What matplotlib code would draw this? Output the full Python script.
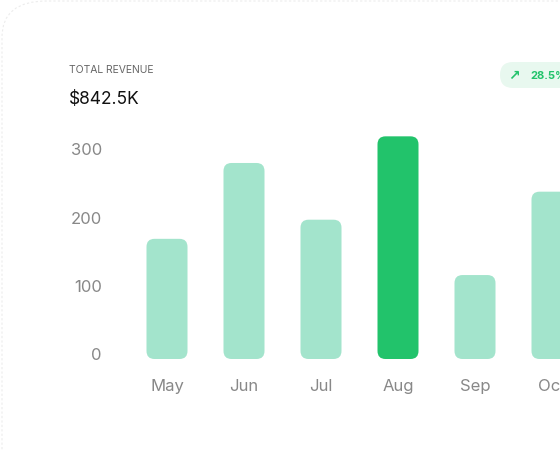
import matplotlib
matplotlib.use("Agg")
import matplotlib.pyplot as plt
from matplotlib.patches import FancyBboxPatch

plt.rcParams['font.family'] = ['Inter', 'DejaVu Sans']

months = ["May", "Jun", "Jul", "Aug", "Sep", "Oct"]
revenue = [170, 281, 198, 320, 117, 239]
highlight = "Aug"
yticks = [0, 100, 200, 300]

W, H = 560, 452
fig = plt.figure(figsize=(5.6, 4.52), dpi=100)
fig.patch.set_facecolor("white")

card = FancyBboxPatch((2/W, -0.2), 1.2, 1.2 - 2/H,
                      boxstyle="round,pad=0,rounding_size=0.08",
                      transform=fig.transFigure, facecolor="white",
                      edgecolor="#ececec", lw=0.8, linestyle=(0, (2, 2)),
                      zorder=-5)
fig.add_artist(card)

ax_l, ax_r, ax_t, ax_b = 110, 560, 130, 372
ax = fig.add_axes([ax_l/W, 1-ax_b/H, (ax_r-ax_l)/W, (ax_b-ax_t)/H])
ax.set_zorder(2)
ax.patch.set_alpha(0)
ppx = 77.0
ax.set_xlim((ax_l-167)/ppx, (ax_r-167)/ppx)
ppy = 205/300
ax.set_ylim((356-ax_b)/ppy, (356-ax_t)/ppy)
ax.axis("off")

bw = 41/ppx
r = 8/ppx
for i, (m, v) in enumerate(zip(months, revenue)):
    c = "#22c36b" if m == highlight else "#a3e4cc"
    p = FancyBboxPatch((i-bw/2, -4/ppy), bw, v+4/ppy,
                       boxstyle=f"round,pad=0,rounding_size={r}",
                       mutation_aspect=(1/ppy)/(1/ppx),
                       facecolor=c, edgecolor="none")
    ax.add_patch(p)
    ax.text(i, (356-387)/ppy, m, ha="center", va="center",
            fontsize=12, color="#888888", clip_on=False)

for t in yticks:
    ax.text((102-167)/ppx, t, str(t), ha="right", va="center",
            fontsize=12, color="#888888", clip_on=False)

fig.text(69/W, 1-70/H, "TOTAL REVENUE", fontsize=7.5, color="#666666",
         va="center")
fig.text(69/W, 1-100/H, "$842.5K", fontsize=12.5, color="#111111", va="center")

badge = FancyBboxPatch((500/W, 1-89/H), 80/W, 26/H,
                       boxstyle=f"round,pad=0,rounding_size={13/W}",
                       mutation_aspect=W/H,
                       transform=fig.transFigure, facecolor="#e8f8ef",
                       edgecolor="none")
fig.add_artist(badge)
fig.text(508/W, 1-76/H, "↗", fontsize=10, color="#22c36b", va="center",
         fontweight="bold", family=["DejaVu Sans"])
fig.text(530/W, 1-76/H, "28.5%", fontsize=8, color="#22c36b", va="center",
         fontweight="bold")

fig.savefig("out.png", dpi=100)
